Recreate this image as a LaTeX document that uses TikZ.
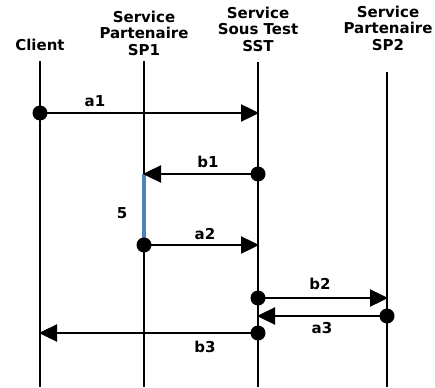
\documentclass[tikz,border=0pt]{standalone}
\usepackage{fontspec}
\setmainfont{DejaVu Sans}
\usetikzlibrary{arrows.meta}
\definecolor{barblue}{RGB}{79,129,189}
\begin{document}
\begin{tikzpicture}[x=1pt,y=-1pt,
  every node/.style={font=\bfseries\fontsize{15}{16.5}\selectfont, inner sep=0pt},
  hdr/.style={align=center},
  lifeline/.style={line width=2.4pt},
  msg/.style={line width=2.4pt, -{Triangle[length=18pt,width=17pt]}, shorten >=-1pt},
  dot/.style={circle, fill=black, minimum size=15pt, inner sep=0pt},
  lbl/.style={}]
\useasboundingbox (0,0) rectangle (435,387);
% headers
\node[hdr] (client) at (40,45) {Client};
\node[hdr] (sp1) at (144,33) {Service\\Partenaire\\SP1};
\node[hdr] (sst) at (258,29) {Service\\Sous Test\\SST};
\node[hdr] (sp2) at (388,28) {Service\\Partenaire\\SP2};
% lifeline ends
\coordinate (cT) at (40,61);  \coordinate (cB) at (40,387);
\coordinate (pT) at (144,61); \coordinate (pB) at (144,387);
\coordinate (sT) at (258,62); \coordinate (sB) at (258,387);
\coordinate (qT) at (387,72); \coordinate (qB) at (387,387);
\draw[lifeline] (cT) -- (cB);
\draw[lifeline] (pT) -- (pB);
\draw[lifeline] (sT) -- (sB);
\draw[lifeline] (qT) -- (qB);
% blue bar
\coordinate (barT) at (144,174);
\coordinate (barB) at (144,245);
\draw[barblue, line width=4pt] (barT) -- (barB);
\node[lbl] (five) at (122,213) {5};
% a1
\node[dot] (a1s) at (40,113) {};
\coordinate (a1e) at (258,113);
\draw[msg] (a1s.center) -- (a1e);
\node[lbl] (a1l) at (95,101) {a1};
% b1
\node[dot] (b1s) at (258,174) {};
\draw[msg] (b1s.center) -- (barT);
\node[lbl] (b1l) at (208,162) {b1};
% a2
\node[dot] (a2s) at (144,245) {};
\coordinate (a2e) at (258,245);
\draw[msg] (a2s.center) -- (a2e);
\node[lbl] (a2l) at (205,234) {a2};
% b2
\node[dot] (b2s) at (258,298) {};
\coordinate (b2e) at (387,298);
\draw[msg] (b2s.center) -- (b2e);
\node[lbl] (b2l) at (320,284) {b2};
% a3
\node[dot] (a3s) at (387,316) {};
\coordinate (a3e) at (258,316);
\draw[msg] (a3s.center) -- (a3e);
\node[lbl] (a3l) at (322,328) {a3};
% b3
\node[dot] (b3s) at (258,333) {};
\coordinate (b3e) at (40,333);
\draw[msg] (b3s.center) -- (b3e);
\node[lbl] (b3l) at (205,347) {b3};
\end{tikzpicture}
\end{document}
